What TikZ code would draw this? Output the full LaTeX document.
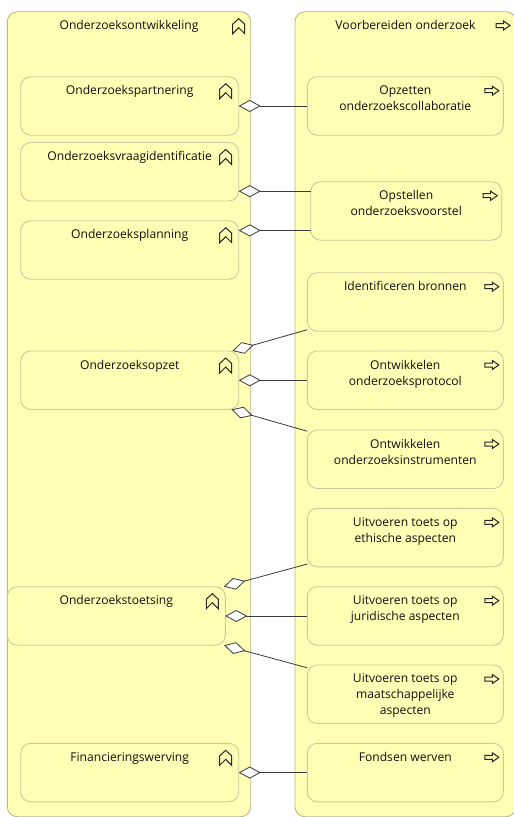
\documentclass[tikz,border=0pt]{standalone}
\usepackage{fontspec}
\setmainfont{Open Sans}
\usetikzlibrary{arrows.meta,calc}

\definecolor{bizfill}{HTML}{FFFFB5}
\definecolor{grpline}{HTML}{B8B88C}
\definecolor{boxline}{HTML}{CACA9C}
\definecolor{conline}{HTML}{3A3A3A}
\definecolor{txt}{HTML}{101010}

\tikzset{
  container/.style={draw=grpline, fill=bizfill, rounded corners=10pt, line width=0.9pt,
    anchor=north west, inner sep=0pt, outer sep=0pt},
  fnbox/.style={draw=boxline, fill=bizfill, rounded corners=10pt, line width=0.9pt,
    anchor=north west, inner sep=0pt, outer sep=0pt, minimum height=58.5pt},
  lbl/.style={font=\fontsize{12.1}{16}\selectfont, align=center, anchor=north,
    inner sep=0pt, text=txt},
  agg/.style={draw=conline, line width=0.8pt,
    {Diamond[open, fill=white, length=22pt, width=12pt, line width=0.8pt]}-},
  iconline/.style={draw=black!85, line width=1pt, fill=bizfill, line join=miter},
  funcicon/.pic={
    \draw[iconline] (-6,7.5) -- (-6,-2) -- (0,-7.5) -- (6,-2) -- (6,7.5) -- (0,1.5) -- cycle;
  },
  procicon/.pic={
    \draw[iconline] (-7,-2) -- (0.5,-2) -- (0.5,-4.5) -- (7,0) -- (0.5,4.5)
      -- (0.5,2) -- (-7,2) -- cycle;
  },
}

\begin{document}
\begin{tikzpicture}[x=1pt, y=-1pt]
\clip (0,0) rectangle (514,817);

% groups
\node[container, minimum width=243.4pt, minimum height=805pt] (grpL) at (7.3,11.7) {};
\node[container, minimum width=221pt, minimum height=805pt] (grpR) at (295,11.7) {};
\node[lbl] (tgrpL) at ($(grpL.north)+(0,8.8)$) {Onderzoeksontwikkeling};
\node[lbl] (tgrpR) at ($(grpR.north)+(0,8.8)$) {Voorbereiden onderzoek};
\pic at ($(grpL.north east)+(-12,14.5)$) {funcicon};
\pic at (503,25.5) {procicon};

% business functions
\node[fnbox, minimum width=218pt] (partnering)   at (20.7,76.7)  {};
\node[fnbox, minimum width=218pt] (vraag)        at (20.7,142.5) {};
\node[fnbox, minimum width=218pt] (planning)     at (20.7,220.7) {};
\node[fnbox, minimum width=218pt] (opzet)        at (20.7,351)   {};
\node[fnbox, minimum width=218pt] (toetsing)     at (7.3,586.7)  {};
\node[fnbox, minimum width=218pt] (financiering) at (20.7,743.3) {};

% business processes
\node[fnbox, minimum width=196pt] (opzetten)        at (307.3,76.7)  {};
\node[fnbox, minimum width=191pt] (opstellen)       at (310.7,181.7) {};
\node[fnbox, minimum width=196pt] (identificeren)   at (307.3,272.7) {};
\node[fnbox, minimum width=196pt] (protocol)        at (307.3,351)   {};
\node[fnbox, minimum width=196pt] (instrumenten)    at (307.3,430)   {};
\node[fnbox, minimum width=196pt] (ethisch)         at (307.3,508.3) {};
\node[fnbox, minimum width=196pt] (juridisch)       at (307.3,586.7) {};
\node[fnbox, minimum width=196pt] (maatschappelijk) at (307.3,665)   {};
\node[fnbox, minimum width=196pt] (fondsen)         at (307.3,743.3) {};

% labels and type icons
\foreach \n/\t in {partnering/Onderzoekspartnering,
                   vraag/Onderzoeksvraagidentificatie,
                   planning/Onderzoeksplanning,
                   opzet/Onderzoeksopzet,
                   toetsing/Onderzoekstoetsing,
                   financiering/Financieringswerving}{
  \node[lbl] (t-\n) at ($(\n.north)+(0,8.8)$) {\t};
  \pic at ($(\n.north east)+(-13,14.5)$) {funcicon};
}
\foreach \n/\t in {opzetten/{Opzetten\\onderzoekscollaboratie},
                   opstellen/{Opstellen\\onderzoeksvoorstel},
                   identificeren/{Identificeren bronnen},
                   protocol/{Ontwikkelen\\onderzoeksprotocol},
                   instrumenten/{Ontwikkelen\\onderzoeksinstrumenten},
                   ethisch/{Uitvoeren toets op\\ethische aspecten},
                   juridisch/{Uitvoeren toets op\\juridische aspecten},
                   maatschappelijk/{Uitvoeren toets op\\maatschappelijke\\aspecten},
                   fondsen/{Fondsen werven}}{
  \node[lbl] (t-\n) at ($(\n.north)+(0,8.8)$) {\t};
  \pic at ($(\n.north east)+(-11.5,14)$) {procicon};
}

% aggregation relations
\coordinate (m2) at (0,191.2);
\coordinate (m3) at (0,230.4);
\coordinate (m5) at (0,380.3);
\coordinate (m8) at (0,616);
\draw[agg] (partnering.east) -- (opzetten.west);
\draw[agg] (vraag.east |- m2) -- (opstellen.west |- m2);
\draw[agg] (planning.east |- m3) -- (opstellen.west |- m3);
\draw[agg] (opzet) -- (identificeren);
\draw[agg] (opzet.east |- m5) -- (protocol.west |- m5);
\draw[agg] (opzet) -- (instrumenten);
\draw[agg] (toetsing) -- (ethisch);
\draw[agg] (toetsing.east |- m8) -- (juridisch.west |- m8);
\draw[agg] (toetsing) -- (maatschappelijk);
\draw[agg] (financiering.east) -- (fondsen.west);
\end{tikzpicture}
\end{document}
